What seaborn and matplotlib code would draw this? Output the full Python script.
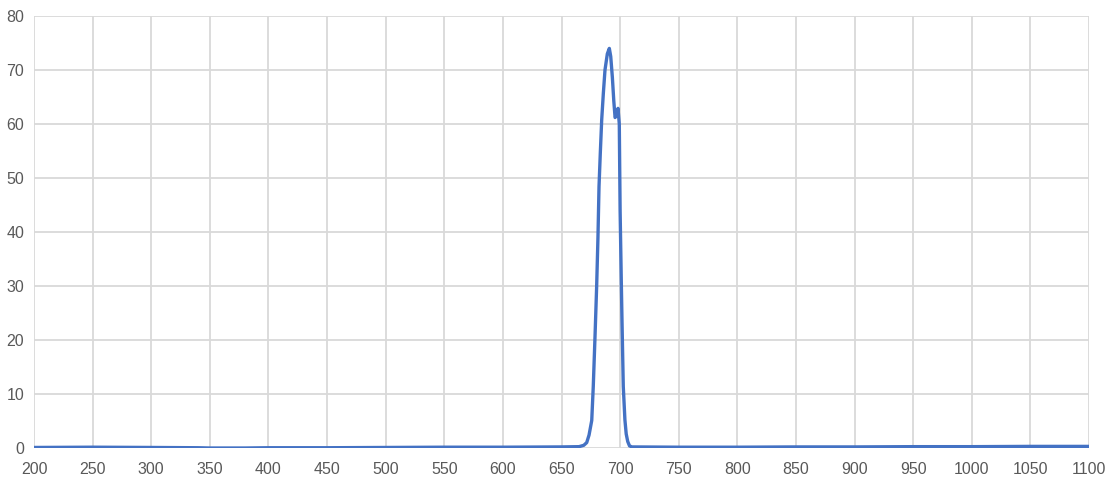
import matplotlib
matplotlib.use("Agg")
import matplotlib.pyplot as plt
import seaborn as sns
import pandas as pd

wavelength = [200, 250, 300, 340, 350, 380, 400, 450, 500, 550, 600, 650, 665, 669, 671.5,
              673.5, 675.8, 677.1, 678.6, 680, 681.1, 682, 683.1, 684.3, 685.7, 687.1, 689.1,
              690.8, 692, 693.4, 694.6, 695.7, 697.1, 698.2, 699.3, 700, 701, 701.6,
              702.7, 704.1, 705.2, 706.5, 708, 710, 750, 800, 850, 900, 950, 1000, 1050, 1100]
transmission = [0.1, 0.15, 0.1, 0.05, 0.0, 0.0, 0.05, 0.05, 0.1, 0.15, 0.15, 0.2, 0.25, 0.5, 1.0,
                2.4, 5.1, 11.4, 20.7, 30.0, 39.0, 48.4, 54.6, 60.8, 65.7, 70.0, 73.0,
                74.0, 72.5, 68.6, 64.3, 61.2, 61.6, 62.9, 60.0, 44.0, 31.0, 23.7,
                11.4, 5.2, 2.6, 1.2, 0.4, 0.2, 0.15, 0.15, 0.2, 0.2, 0.25, 0.25, 0.3, 0.3]

x_ticks = list(range(200, 1101, 50))
y_ticks = list(range(0, 81, 10))

df = pd.DataFrame({"wavelength": wavelength, "transmission": transmission})

sns.set_theme(style="white")
plt.rcParams["font.family"] = ["Liberation Sans", "DejaVu Sans"]

fig = plt.figure(figsize=(11.11, 4.87), dpi=100)
ax = fig.add_axes([34 / 1111, 39 / 487, (1089 - 34) / 1111, (448 - 16) / 487])

sns.lineplot(data=df, x="wavelength", y="transmission", ax=ax,
             color="#4472C4", linewidth=2.4, sort=False)

ax.set_xlim(200, 1100)
ax.set_ylim(0, 80)
ax.set_xticks(x_ticks)
ax.set_yticks(y_ticks)
ax.set_xlabel("")
ax.set_ylabel("")
ax.grid(True, color="#D9D9D9", linewidth=1.3)
ax.set_axisbelow(True)
for s in ax.spines.values():
    s.set_visible(False)
ax.tick_params(axis="both", length=0, labelsize=11.5, colors="#595959", pad=7)
ax.tick_params(axis="x", pad=10)

fig.savefig("out.png", dpi=100)
